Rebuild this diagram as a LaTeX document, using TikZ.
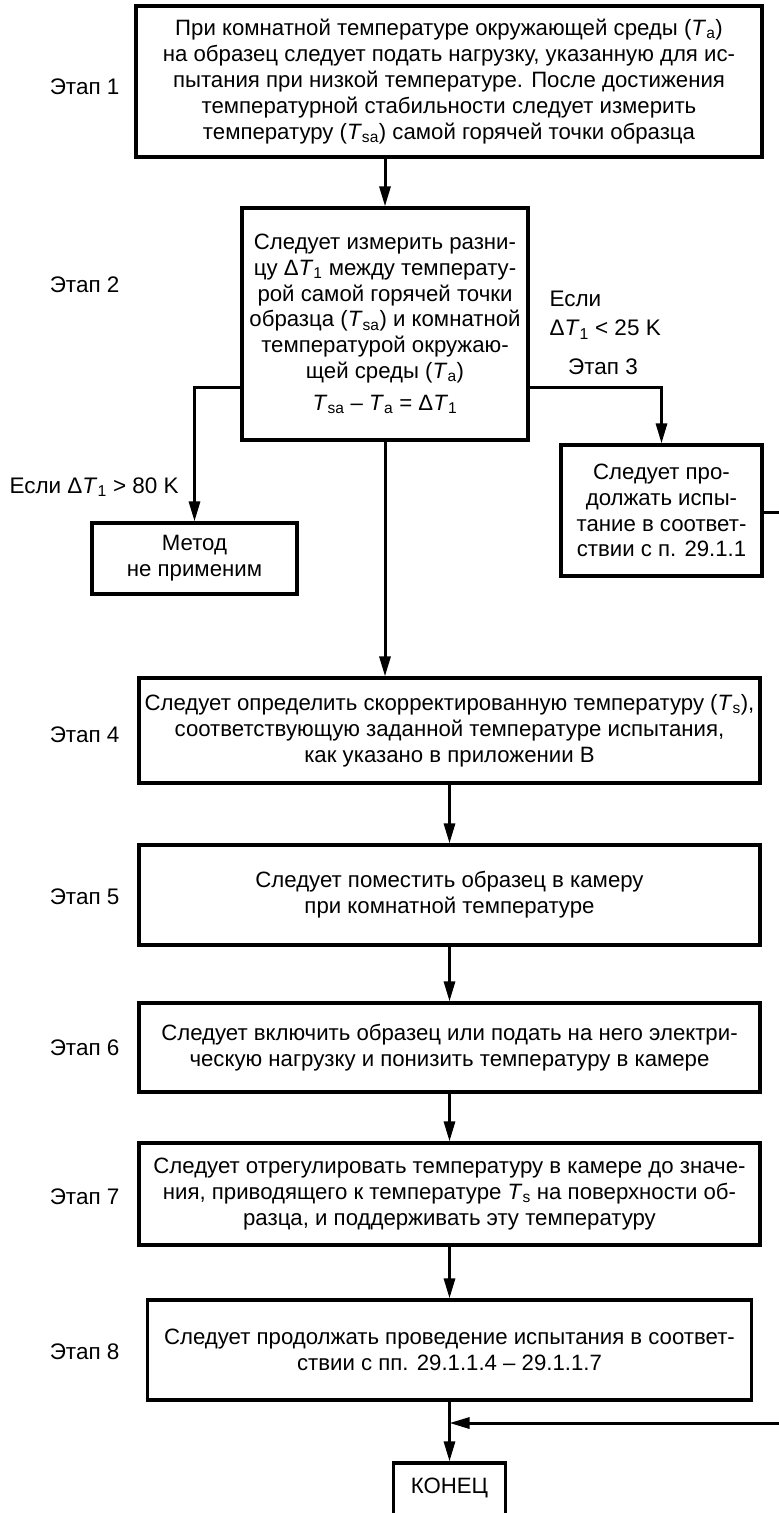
\documentclass[tikz,border=0pt]{standalone}
\usepackage{fontspec}
\setmainfont{Liberation Sans}
\usetikzlibrary{arrows.meta}
\newcommand{\Tx}[1]{\textit{T}\textsubscript{#1}}

\begin{document}
\begin{tikzpicture}[x=1pt,y=-1pt,
  stage/.style={draw, line width=3.2pt, align=center, inner sep=0pt,
    font=\fontsize{22.2}{25.8}\selectfont},
  lbl/.style={inner sep=0pt, font=\fontsize{22.5}{29}\selectfont},
  ->,>={Triangle[length=20pt,width=11pt]},line width=3pt
]
\useasboundingbox (0,0) rectangle (779,1513);

\node[stage, minimum width=626, minimum height=151] (heat) at (449,81.5)
  {При комнатной температуре окружающей среды (\Tx{a})\\
   на образец следует подать нагрузку, указанную для ис-\\
   пытания при низкой температуре. После достижения\\
   температурной стабильности следует измерить\\
   температуру (\Tx{sa}) самой горячей точки образца};
\node[stage, minimum width=286, minimum height=232] (diff) at (385,324)
  {Следует измерить разни-\\
   цу Δ\Tx{1} между температу-\\
   рой самой горячей точки\\
   образца (\Tx{sa}) и комнатной\\
   температурой окружаю-\\
   щей среды (\Tx{a})\\[6pt]
   \Tx{sa} – \Tx{a} = Δ\Tx{1}};
\node[stage, minimum width=201, minimum height=131] (cont) at (661.5,510.5)
  {Следует про-\\должать испы-\\тание в соответ-\\ствии с п. 29.1.1};
\node[stage, minimum width=205, minimum height=71] (nomethod) at (194.5,558.5)
  {Метод\\не применим};
\node[stage, minimum width=621, minimum height=105] (corr) at (449.5,730.5)
  {Следует определить скорректированную температуру (\Tx{s}),\\
   соответствующую заданной температуре испытания,\\
   как указано в приложении В};
\node[stage, minimum width=621, minimum height=100] (place) at (449.5,895)
  {Следует поместить образец в камеру\\при комнатной температуре};
\node[stage, minimum width=621, minimum height=89] (cool) at (449.5,1047.5)
  {Следует включить образец или подать на него электри-\\
   ческую нагрузку и понизить температуру в камере};
\node[stage, minimum width=621, minimum height=102] (adjust) at (449.5,1194)
  {Следует отрегулировать температуру в камере до значе-\\
   ния, приводящего к температуре \Tx{s} на поверхности об-\\
   разца, и поддерживать эту температуру};
\node[stage, minimum width=604, minimum height=100] (proceed) at (449.5,1350)
  {Следует продолжать проведение испытания в соответ-\\
   ствии с пп. 29.1.1.4 – 29.1.1.7};
\node[stage, minimum width=112, minimum height=64, text height=16pt,
  text depth=20pt] (finish) at (449.5,1495) {КОНЕЦ};

\node[lbl, anchor=east] (lab1) at (121,87) {Этап 1};
\node[lbl, anchor=east] (lab2) at (121,285) {Этап 2};
\node[lbl] (lab3) at (603,367) {Этап 3};
\node[lbl, anchor=east] (lab4) at (121,735) {Этап 4};
\node[lbl, anchor=east] (lab5) at (121,897) {Этап 5};
\node[lbl, anchor=east] (lab6) at (121,1048) {Этап 6};
\node[lbl, anchor=east] (lab7) at (121,1197) {Этап 7};
\node[lbl, anchor=east] (lab8) at (121,1352) {Этап 8};
\node[lbl, anchor=west, align=left] (low) at (548,315) {Если\\Δ\Tx{1} < 25 K};
\node[lbl, anchor=west] (high) at (8,487) {Если Δ\Tx{1} > 80 K};

\coordinate (rtop) at (780,512);
\coordinate (rbot) at (780,1423);

\draw (diff.north |- heat.south) -- (diff.north);
\draw ([yshift=-63pt]diff.west) -| (nomethod.north);
\draw ([yshift=-63pt]diff.east) -| (cont.north);
\draw (diff.south) -- (diff.south |- corr.north);
\draw (corr) -- (place);
\draw (place) -- (cool);
\draw (cool) -- (adjust);
\draw (adjust) -- (proceed);
\draw (proceed) -- (finish);
\draw (cont.east |- rtop) -- (rtop) -- (rbot) -- (proceed.south |- rbot);
\end{tikzpicture}
\end{document}
